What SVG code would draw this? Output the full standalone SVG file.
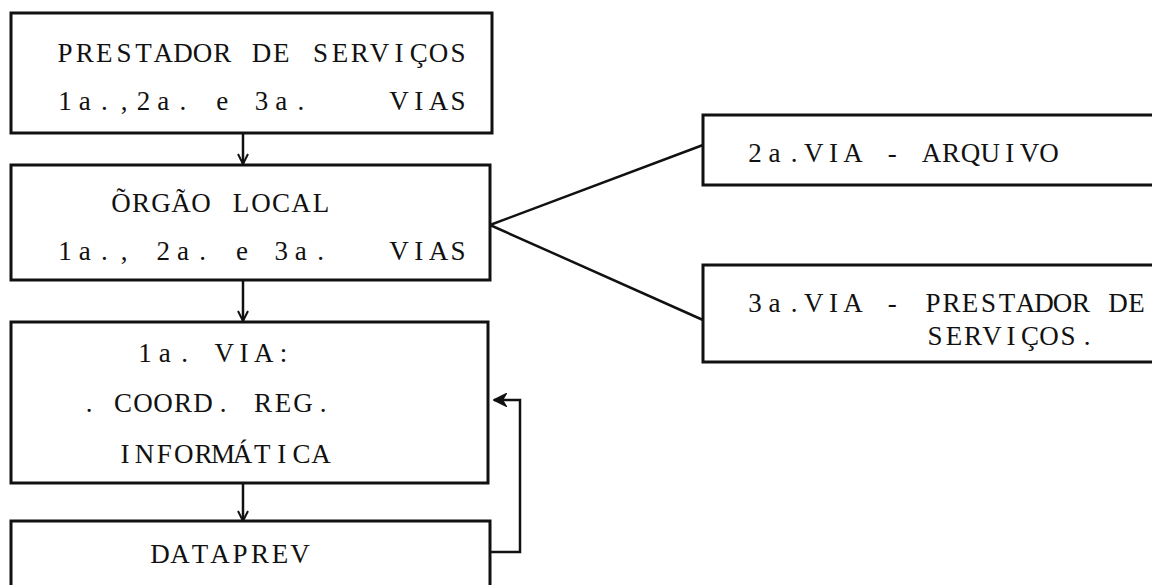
<svg xmlns="http://www.w3.org/2000/svg" width="1152" height="585" viewBox="0 0 1152 585">
<style>
.box{fill:none;stroke:#111;stroke-width:3}
.ln{fill:none;stroke:#111;stroke-width:2.5}
.t{font-family:"Liberation Serif","Times New Roman",serif;font-size:27px;fill:#111;text-anchor:middle;white-space:pre}
</style>
<defs>
<marker id="v" viewBox="0 0 12 12" refX="11" refY="6" markerWidth="12" markerHeight="12" markerUnits="userSpaceOnUse" orient="auto">
<path d="M1,1 L11,6 L1,11" fill="none" stroke="#111" stroke-width="2"/>
</marker>
<marker id="f" viewBox="0 0 12 12" refX="11" refY="6" markerWidth="14" markerHeight="14" markerUnits="userSpaceOnUse" orient="auto">
<path d="M1,1 L11,6 L1,11 L4,6 Z" fill="#111" stroke="#111" stroke-width="1.5"/>
</marker>
</defs>
<rect width="1152" height="585" fill="#fff"/>
<g id="connectors">
<line class="ln" x1="243" y1="133" x2="243" y2="164" marker-end="url(#v)"/>
<line class="ln" x1="243" y1="280" x2="243" y2="321" marker-end="url(#v)"/>
<line class="ln" x1="243" y1="483" x2="243" y2="521" marker-end="url(#v)"/>
<line class="ln" x1="490" y1="225" x2="703" y2="145"/>
<line class="ln" x1="490" y1="225" x2="703" y2="320"/>
<path class="ln" d="M490,552 H520 V400 H494" marker-end="url(#f)"/>
</g>
<g id="n1">
<rect class="box" x="11" y="13" width="481" height="120"/>
<text class="t" xml:space="preserve" y="62" x="65 84.7 104.3 124 143.6 163.3 182.9 202.6 222.2 241.9 261.5 281.2 300.8 320.5 340.1 359.8 379.4 399.1 418.7 438.4 458">PRESTADOR DE SERVIÇOS</text>
<text class="t" xml:space="preserve" y="110" x="65 84.7 104.3 124 143.6 163.3 182.9 202.6 222.2 241.9 261.5 281.2 300.8 320.5 340.1 359.8 379.4 399.1 418.7 438.4 458">1a.,2a. e 3a.    VIAS</text>
</g>
<g id="n2">
<rect class="box" x="11" y="165" width="479" height="115"/>
<text class="t" xml:space="preserve" y="212" x="121 141 161 181 201 221 241 261 281 301 321">ÕRGÃO LOCAL</text>
<text class="t" xml:space="preserve" y="260" x="65 84.7 104.3 124 143.6 163.3 182.9 202.6 222.2 241.9 261.5 281.2 300.8 320.5 340.1 359.8 379.4 399.1 418.7 438.4 458">1a., 2a. e 3a.   VIAS</text>
</g>
<g id="n3">
<rect class="box" x="11" y="322" width="477" height="161"/>
<text class="t" xml:space="preserve" y="362" x="145 164.8 184.6 204.4 224.2 244 263.8 283.6">1a. VIA:</text>
<text class="t" y="412" x="89">.</text>
<text class="t" xml:space="preserve" y="412" x="123 143 163 183 203 223 243 263 283 303 323">COORD. REG.</text>
<text class="t" y="463" x="125 144.6 164.2 183.8 203.4 223 242.6 262.2 281.8 301.4 321">INFORMÁTICA</text>
</g>
<g id="n4">
<path class="box" d="M11,600 V521 H490 V600"/>
<text class="t" y="563" x="160 180 200 220 240 260 280 300">DATAPREV</text>
</g>
<g id="n5">
<path class="box" d="M1160,115 H703 V185 H1160"/>
<text class="t" xml:space="preserve" y="162" x="755 774.6 794.2 813.8 833.4 853 872.6 892.2 911.8 931.4 951 970.6 990.2 1009.8 1029.4 1049">2a.VIA - ARQUIVO</text>
</g>
<g id="n6">
<path class="box" d="M1160,265 H703 V362 H1160"/>
<text class="t" xml:space="preserve" y="312" x="755 774.6 794.2 813.8 833.4 853 872.6 892.2 911.8 933 951.5 970 988.5 1007 1025.5 1044 1062.5 1081 1099.5 1118 1136.5">3a.VIA - PRESTADOR DE</text>
<text class="t" y="345" x="935 954 973 992 1011 1030 1049 1068 1087">SERVIÇOS.</text>
</g>
</svg>
